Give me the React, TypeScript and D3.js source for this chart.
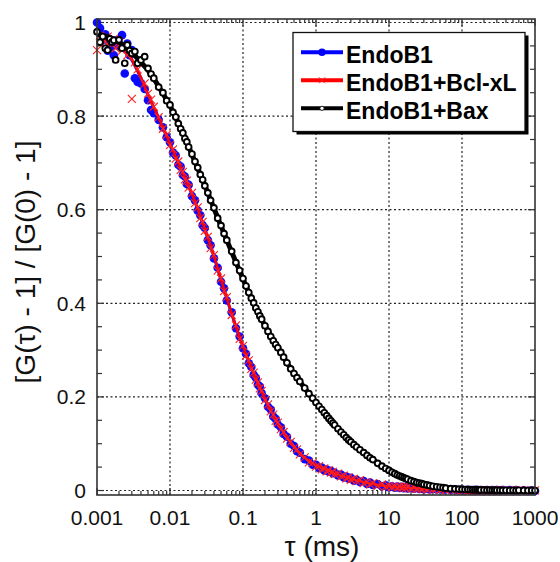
import React, { useEffect, useRef } from "react";
import * as d3 from "d3";

// measured lag times (ms)
const tau = [
  0.001, 0.0011, 0.0012, 0.0013, 0.0014, 0.0015, 0.0016, 0.0017, 0.0018, 0.002, 0.0022, 0.0024, 0.0026, 0.0028, 0.003, 0.0033, 0.0036, 0.004, 0.0045, 0.005, 0.0055, 0.006, 0.007, 0.008, 0.009,
  0.01, 0.011, 0.012, 0.013, 0.014, 0.015, 0.016, 0.017, 0.018, 0.02, 0.022, 0.024, 0.026, 0.028, 0.03, 0.033, 0.036, 0.04, 0.045, 0.05, 0.055, 0.06, 0.07, 0.08, 0.09,
  0.1, 0.11, 0.12, 0.13, 0.14, 0.15, 0.16, 0.17, 0.18, 0.2, 0.22, 0.24, 0.26, 0.28, 0.3, 0.33, 0.36, 0.4, 0.45, 0.5, 0.55, 0.6, 0.7, 0.8, 0.9,
  1, 1.1, 1.2, 1.3, 1.4, 1.5, 1.6, 1.7, 1.8, 2, 2.2, 2.4, 2.6, 2.8, 3, 3.3, 3.6, 4, 4.5, 5, 5.5, 6, 7, 8, 9,
  10, 11, 12, 13, 14, 15, 16, 17, 18, 20, 22, 24, 26, 28, 30, 33, 36, 40, 45, 50, 55, 60, 70, 80, 90,
  100, 110, 120, 130, 140, 150, 160, 170, 180, 200, 220, 240, 260, 280, 300, 330, 360, 400, 450, 500, 550, 600, 700, 800, 900,
  1000,
];

const endoB1 = [
  1.0, 0.988, 0.962, 0.975, 0.94, 0.955, 0.948, 0.93, 0.962, 0.95, 0.973, 0.891, 0.955, 0.93, 0.941, 0.881, 0.873, 0.87, 0.858, 0.834, 0.813, 0.806, 0.792, 0.776, 0.755,
  0.744, 0.722, 0.716, 0.696, 0.692, 0.674, 0.671, 0.655, 0.653, 0.629, 0.62, 0.598, 0.588, 0.567, 0.561, 0.535, 0.524, 0.496, 0.476, 0.446, 0.432, 0.406, 0.381, 0.347, 0.329,
  0.304, 0.292, 0.272, 0.264, 0.247, 0.241, 0.226, 0.222, 0.208, 0.197, 0.179, 0.173, 0.158, 0.153, 0.141, 0.135, 0.121, 0.115, 0.1, 0.095, 0.084, 0.081, 0.067, 0.064, 0.055,
  0.055, 0.048, 0.049, 0.043, 0.045, 0.04, 0.042, 0.037, 0.038, 0.032, 0.034, 0.028, 0.03, 0.025, 0.027, 0.021, 0.023, 0.018, 0.02, 0.014, 0.017, 0.012, 0.014, 0.009, 0.011,
  0.007, 0.009, 0.006, 0.0085, 0.0055, 0.008, 0.005, 0.0075, 0.0045, 0.007, 0.004, 0.006, 0.0035, 0.0055, 0.003, 0.005, 0.0025, 0.004, 0.002, 0.0035, 0.0015, 0.003, 0.001, 0.0025, 0.0005,
  0.002, 0.0, 0.0015, -0.0005, 0.001, -0.001, 0.0015, -0.0005, 0.001, -0.001, 0.0012, -0.0008, 0.001, -0.0012, 0.0008, -0.001, 0.0012, -0.0006, 0.001, -0.001, 0.0008, -0.0012, 0.0006, -0.0008, 0.0005,
  -0.001,
];

const endoB1BclxL = [
  0.941, 0.972, 0.966, 0.958, 0.97, 0.96, 0.952, 0.965, 0.945, 0.958, 0.94, 0.952, 0.93, 0.935, 0.837, 0.915, 0.9, 0.916, 0.87, 0.848, 0.835, 0.82, 0.798, 0.773, 0.76,
  0.738, 0.729, 0.709, 0.703, 0.685, 0.681, 0.665, 0.662, 0.647, 0.636, 0.614, 0.605, 0.582, 0.574, 0.555, 0.542, 0.518, 0.503, 0.47, 0.453, 0.426, 0.413, 0.375, 0.353, 0.324,
  0.309, 0.288, 0.278, 0.26, 0.252, 0.237, 0.231, 0.218, 0.213, 0.193, 0.184, 0.169, 0.162, 0.149, 0.145, 0.131, 0.125, 0.111, 0.104, 0.091, 0.088, 0.077, 0.071, 0.06, 0.059,
  0.051, 0.052, 0.045, 0.047, 0.041, 0.043, 0.038, 0.04, 0.035, 0.036, 0.03, 0.032, 0.026, 0.028, 0.023, 0.025, 0.02, 0.022, 0.016, 0.018, 0.013, 0.016, 0.01, 0.013, 0.008,
  0.01, 0.007, 0.009, 0.006, 0.0085, 0.0055, 0.008, 0.005, 0.0075, 0.004, 0.0065, 0.0035, 0.0055, 0.003, 0.005, 0.0025, 0.0045, 0.002, 0.004, 0.0015, 0.0035, 0.001, 0.003, 0.0005, 0.002,
  -0.0005, 0.0015, -0.001, 0.0012, -0.0008, 0.001, -0.0012, 0.0012, -0.0005, 0.001, -0.001, 0.0008, -0.0012, 0.001, -0.0006, 0.0012, -0.001, 0.0005, -0.0012, 0.001, -0.0008, 0.0006, -0.001, 0.0008, -0.0005,
  0.0005,
];

const endoB1Bax = [
  0.98, 0.958, 0.97, 0.945, 0.941, 0.965, 0.958, 0.962, 0.92, 0.963, 0.945, 0.913, 0.952, 0.94, 0.934, 0.938, 0.913, 0.92, 0.927, 0.902, 0.89, 0.881, 0.862, 0.85, 0.833,
  0.824, 0.808, 0.798, 0.784, 0.773, 0.764, 0.752, 0.745, 0.734, 0.719, 0.703, 0.69, 0.675, 0.664, 0.651, 0.636, 0.62, 0.604, 0.582, 0.566, 0.549, 0.535, 0.511, 0.487, 0.47,
  0.453, 0.437, 0.423, 0.411, 0.401, 0.39, 0.382, 0.373, 0.366, 0.352, 0.34, 0.329, 0.32, 0.312, 0.305, 0.295, 0.285, 0.273, 0.26, 0.25, 0.241, 0.233, 0.219, 0.207, 0.197,
  0.188, 0.18, 0.173, 0.166, 0.16, 0.154, 0.149, 0.144, 0.14, 0.132, 0.125, 0.119, 0.113, 0.108, 0.104, 0.098, 0.093, 0.087, 0.081, 0.075, 0.07, 0.066, 0.058, 0.052, 0.047,
  0.043, 0.039, 0.036, 0.033, 0.031, 0.029, 0.027, 0.0255, 0.024, 0.021, 0.019, 0.017, 0.016, 0.0145, 0.013, 0.012, 0.0105, 0.009, 0.008, 0.007, 0.006, 0.005, 0.004, 0.0035, 0.003,
  0.0025, 0.0022, 0.002, 0.0018, 0.0015, 0.0017, 0.0012, 0.0014, 0.001, 0.0012, 0.0008, 0.001, 0.0006, 0.0009, 0.0005, 0.0008, 0.0003, 0.0006, 0.0002, 0.0005, 0.0, 0.0004, 0.0002, 0.0, 0.0003,
  0.0,
];

// fitted curves
const fitTau = [
  0.001, 0.0015, 0.002, 0.003, 0.004, 0.005, 0.006, 0.008,
  0.01, 0.015, 0.02, 0.03, 0.04, 0.05, 0.06, 0.08,
  0.1, 0.15, 0.2, 0.3, 0.4, 0.5, 0.6, 0.8,
  1, 1.5, 2, 3, 4, 5, 6, 8,
  10, 15, 20, 30, 40, 50, 60, 80,
  100, 150, 200, 300, 400, 500, 600, 800,
  1000,
];
const fitEndoB1 = [
  0.978, 0.969, 0.955, 0.92, 0.881, 0.845, 0.818, 0.775,
  0.74, 0.678, 0.633, 0.558, 0.5, 0.45, 0.41, 0.35,
  0.307, 0.239, 0.195, 0.143, 0.113, 0.093, 0.079, 0.062,
  0.053, 0.0415, 0.034, 0.025, 0.02, 0.016, 0.014, 0.011,
  0.0085, 0.0067, 0.0055, 0.004, 0.003, 0.0025, 0.002, 0.0015,
  0.001, 0.0007, 0.0005, 0.0003, 0.0002, 0.0001, 0.0, 0.0,
  0.0,
];
const fitBclxL = [
  0.977, 0.968, 0.955, 0.921, 0.882, 0.846, 0.819, 0.776,
  0.741, 0.679, 0.634, 0.559, 0.501, 0.451, 0.411, 0.351,
  0.308, 0.24, 0.196, 0.144, 0.114, 0.094, 0.08, 0.063,
  0.054, 0.042, 0.034, 0.025, 0.02, 0.016, 0.014, 0.011,
  0.0086, 0.0068, 0.0055, 0.004, 0.003, 0.0025, 0.002, 0.0015,
  0.001, 0.0007, 0.0005, 0.0003, 0.0002, 0.0001, 0.0, 0.0,
  0.0,
];
const fitBax = [
  0.975, 0.968, 0.958, 0.936, 0.915, 0.898, 0.88, 0.848,
  0.822, 0.764, 0.718, 0.652, 0.603, 0.565, 0.535, 0.488,
  0.452, 0.39, 0.352, 0.305, 0.273, 0.25, 0.233, 0.207,
  0.188, 0.154, 0.132, 0.104, 0.087, 0.075, 0.066, 0.052,
  0.043, 0.029, 0.021, 0.013, 0.009, 0.007, 0.005, 0.0035,
  0.0025, 0.0016, 0.0012, 0.0007, 0.0004, 0.0002, 0.0001, 0.0,
  0.0,
];

const seriesNames = ["EndoB1", "EndoB1+Bcl-xL", "EndoB1+Bax"];
const xTickLabels = ["0.001", "0.01", "0.1", "1", "10", "100", "1000"];
const yTickLabels = ["0", "0.2", "0.4", "0.6", "0.8", "1"];

const FONT = "'Liberation Sans', Arial, Helvetica, sans-serif";

export default function App() {
  const ref = useRef<SVGSVGElement>(null);

  useEffect(() => {
    const svg = d3.select(ref.current);
    svg.selectAll("*").remove();

    const x = d3.scaleLog().domain([0.001, 1000]).range([97, 535]);
    const y = d3.scaleLinear().domain([-0.0096, 1.0075]).range([495, 19]);
    const [x0, x1] = x.range();
    const [y0, y1] = y.range();

    // grid
    const grid = svg.append("g").attr("stroke", "#222").attr("stroke-width", 1.2).attr("stroke-dasharray", "2,2.5");
    xTickLabels.map(Number).filter((v) => v > 0.001 && v < 1000).forEach((v) => {
      grid.append("line").attr("x1", x(v)).attr("x2", x(v)).attr("y1", y0).attr("y2", y1);
    });
    yTickLabels.map(Number).forEach((v) => {
      grid.append("line").attr("x1", x0).attr("x2", x1).attr("y1", y(v)).attr("y2", y(v));
    });

    // ticks
    const ticks = svg.append("g").attr("stroke", "#333").attr("stroke-width", 1.2);
    const decades = xTickLabels.map(Number);
    decades.slice(0, -1).forEach((d) => {
      for (let m = 2; m <= 9; m++) {
        const xv = x(d * m);
        ticks.append("line").attr("x1", xv).attr("x2", xv).attr("y1", y0).attr("y2", y0 - 4);
        ticks.append("line").attr("x1", xv).attr("x2", xv).attr("y1", y1).attr("y2", y1 + 4);
      }
    });
    decades.forEach((d) => {
      ticks.append("line").attr("x1", x(d)).attr("x2", x(d)).attr("y1", y0).attr("y2", y0 - 7);
      ticks.append("line").attr("x1", x(d)).attr("x2", x(d)).attr("y1", y1).attr("y2", y1 + 7);
    });
    d3.range(0, 1.001, 0.05).forEach((v) => {
      const len = Math.abs(v * 5 - Math.round(v * 5)) < 1e-6 ? 7 : 5;
      ticks.append("line").attr("x1", x0).attr("x2", x0 + len).attr("y1", y(v)).attr("y2", y(v));
      ticks.append("line").attr("x1", x1).attr("x2", x1 - len).attr("y1", y(v)).attr("y2", y(v));
    });

    // tick labels
    const lab = svg.append("g").attr("font-family", FONT).attr("font-size", 21).attr("fill", "#111");
    xTickLabels.forEach((t) => {
      lab.append("text").attr("x", x(Number(t))).attr("y", 525).attr("text-anchor", "middle").text(t);
    });
    yTickLabels.forEach((t) => {
      lab.append("text").attr("x", 86).attr("y", y(Number(t)) + 7.5).attr("text-anchor", "end").text(t);
    });

    // axis titles
    svg.append("text")
      .attr("font-family", FONT).attr("font-size", 28).attr("fill", "#111")
      .attr("text-anchor", "middle")
      .attr("transform", "translate(35,262) rotate(-90)")
      .text("[G(τ) - 1] / [G(0) - 1]");
    svg.append("text")
      .attr("font-family", FONT).attr("font-size", 28).attr("fill", "#111")
      .attr("text-anchor", "middle")
      .attr("x", 322).attr("y", 556)
      .text("τ (ms)");

    // data + fits
    const plot = svg.append("g");
    const fitLine = d3.line<number>().x((d, i) => x(fitTau[i])).y((d) => y(d)).curve(d3.curveMonotoneX);
    const xPath = "M-4,-4L4,4M-4,4L4,-4";

    plot.append("path").attr("d", fitLine(fitEndoB1)).attr("fill", "none").attr("stroke", "#0000ff").attr("stroke-width", 3);
    plot.append("g").selectAll("circle").data(endoB1).join("circle")
      .attr("cx", (d, i) => x(tau[i])).attr("cy", (d) => y(d)).attr("r", 4.3).attr("fill", "#0a0aff");

    plot.append("path").attr("d", fitLine(fitBclxL)).attr("fill", "none").attr("stroke", "#ff0000").attr("stroke-width", 2.6);
    plot.append("g").selectAll("path").data(endoB1BclxL).join("path")
      .attr("d", xPath).attr("transform", (d, i) => `translate(${x(tau[i])},${y(d)})`)
      .attr("fill", "none").attr("stroke", "#ff2020").attr("stroke-width", 1.1);

    plot.append("path").attr("d", fitLine(fitBax)).attr("fill", "none").attr("stroke", "#000").attr("stroke-width", 5);
    plot.append("g").selectAll("circle").data(endoB1Bax).join("circle")
      .attr("cx", (d, i) => x(tau[i])).attr("cy", (d) => y(d)).attr("r", 2.9)
      .attr("fill", "#fff").attr("stroke", "#000").attr("stroke-width", 1.9);

    // frame
    svg.append("rect").attr("x", x0).attr("y", y1).attr("width", x1 - x0).attr("height", y0 - y1)
      .attr("fill", "none").attr("stroke", "#333").attr("stroke-width", 1.6);

    // legend
    const lg = svg.append("g");
    lg.append("rect").attr("x", 296.5).attr("y", 35.5).attr("width", 232).attr("height", 99).attr("fill", "#000");
    lg.append("rect").attr("x", 293).attr("y", 32.5).attr("width", 232).attr("height", 99)
      .attr("fill", "#fff").attr("stroke", "#111").attr("stroke-width", 1.3);
    const rows = [52.3, 80.3, 108.3];
    const colors = ["#0000ff", "#ff0000", "#000"];
    seriesNames.forEach((name, i) => {
      const ly = rows[i];
      lg.append("line").attr("x1", 301).attr("x2", 343).attr("y1", ly).attr("y2", ly)
        .attr("stroke", colors[i]).attr("stroke-width", 4);
      if (i === 0) lg.append("circle").attr("cx", 322).attr("cy", ly).attr("r", 3.8).attr("fill", "#0000ff");
      if (i === 1) lg.append("path").attr("d", "M-3,-3L3,3M-3,3L3,-3").attr("transform", `translate(322,${ly})`)
        .attr("fill", "none").attr("stroke", "#ff2020").attr("stroke-width", 1);
      if (i === 2) lg.append("circle").attr("cx", 322).attr("cy", ly).attr("r", 2.1)
        .attr("fill", "#fff").attr("stroke", "#000").attr("stroke-width", 0.8);
      lg.append("text").attr("x", 346).attr("y", ly + 10.6)
        .attr("font-family", FONT).attr("font-size", 23).attr("font-weight", "bold").attr("fill", "#000")
        .text(name);
    });
  });

  return (
    <svg
      ref={ref}
      width={560}
      height={562}
      style={{ position: "absolute", left: 0, top: 0, background: "#fff" }}
    ></svg>
  );
}
